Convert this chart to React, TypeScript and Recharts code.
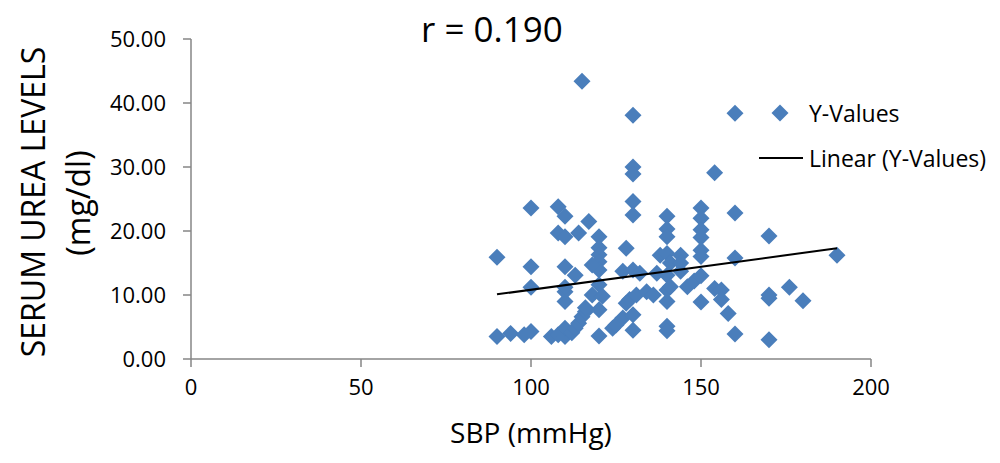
import { Scatter, ScatterChart, XAxis, YAxis } from 'recharts'

// SBP (mmHg) and serum urea (mg/dl)
const sbp = [
  90, 90, 94, 98, 100, 100, 100, 100, 106, 108,
  108, 108, 110, 110, 110, 110, 110, 110, 110, 112,
  113, 113, 114, 114, 115, 115, 116, 117, 118, 120,
  120, 120, 120, 120, 120, 121, 120, 120, 124, 125,
  127, 128, 127, 128, 129, 130, 130, 130, 130, 130,
  130, 130, 130, 131, 132, 134, 136, 137, 138, 140,
  140, 140, 140, 140, 140, 140, 140, 140, 141, 141,
  144, 144, 144, 146, 148, 150, 150, 150, 150, 150,
  150, 150, 150, 154, 154, 156, 156, 158, 160, 160,
  160, 160, 170, 170, 170, 170, 176, 180, 190, 116,
  118, 110,
]
const urea = [
  15.9, 3.5, 4.0, 3.8, 4.3, 14.4, 11.2, 23.6, 3.5, 3.8,
  23.8, 19.7, 22.3, 19.1, 14.4, 10.5, 9.0, 3.5, 4.8, 4.1,
  4.8, 13.1, 19.7, 5.6, 43.4, 6.6, 7.4, 21.5, 10.0, 19.1,
  17.4, 16.3, 15.2, 13.9, 11.6, 9.8, 7.7, 3.6, 4.8, 5.3,
  6.4, 17.3, 13.7, 8.7, 9.3, 38.1, 30.0, 28.9, 24.6, 22.5,
  13.9, 6.9, 4.5, 10.0, 13.4, 10.5, 10.0, 13.4, 16.2, 22.3,
  20.3, 19.1, 16.5, 13.1, 10.8, 9.0, 5.1, 4.4, 15.0, 11.3,
  16.2, 13.7, 15.0, 11.3, 12.2, 23.6, 22.0, 20.2, 19.0, 17.0,
  16.0, 13.0, 8.9, 29.1, 11.0, 10.8, 9.3, 7.1, 38.4, 22.8,
  15.8, 3.9, 19.2, 10.0, 9.5, 3.0, 11.2, 9.1, 16.2, 8.0,
  14.7, 11.2,
]

// ends of the drawn linear trend line
const trendSbp = [90, 190]
const trendUrea = [10.1, 17.3]

const xTicks = [0, 50, 100, 150, 200]
const yTicks = [0, 10, 20, 30, 40, 50]

const points = sbp.map((x, i) => ({ x, y: urea[i] }))
const trend = trendSbp.map((x, i) => ({ x, y: trendUrea[i] }))

const blue = '#4a7ebb'
const axisGrey = '#868686'
const font = '"Open Sans", sans-serif'

function Diamond(props: any) {
  const { cx, cy } = props
  if (cx == null || cy == null) return null
  const r = 8.5
  return (
    <polygon
      points={`${cx},${cy - r} ${cx + r},${cy} ${cx},${cy + r} ${cx - r},${cy}`}
      fill={blue}
    />
  )
}

function LegendBox() {
  return (
    <div
      style={{
        position: 'absolute',
        left: 755,
        top: 98,
        fontFamily: font,
        fontSize: 23,
        color: '#000',
      }}
    >
      <div style={{ display: 'flex', alignItems: 'center', height: 30 }}>
        <svg width={50} height={20}>
          <polygon points="25,1.5 33.5,10 25,18.5 16.5,10" fill={blue} />
        </svg>
        <span style={{ marginLeft: 4 }}>Y-Values</span>
      </div>
      <div style={{ display: 'flex', alignItems: 'center', height: 30, marginTop: 15 }}>
        <svg width={50} height={20}>
          <line x1={4} y1={10} x2={48} y2={10} stroke="#000" strokeWidth={2} />
        </svg>
        <span style={{ marginLeft: 4 }}>Linear (Y-Values)</span>
      </div>
    </div>
  )
}

function YTitle() {
  return (
    <g fontFamily={font} fill="#000">
      <text
        x={32}
        y={202}
        fontSize={32}
        textAnchor="middle"
        dominantBaseline="central"
        transform="rotate(-90 32 202)"
      >
        SERUM UREA LEVELS
      </text>
      <text
        x={77}
        y={203}
        fontSize={32}
        textAnchor="middle"
        dominantBaseline="central"
        transform="rotate(-90 77 203)"
      >
        (mg/dl)
      </text>
    </g>
  )
}

export default function App() {
  return (
    <div style={{ position: 'relative', width: 1000, height: 463, background: '#fff' }}>
      <style>{'body { margin: 0; }'}</style>
      <div
        style={{
          position: 'absolute',
          left: 421,
          top: 6,
          fontFamily: font,
          fontSize: 35,
          color: '#000',
          lineHeight: '46px',
        }}
      >
        r = 0.190
      </div>
      <ScatterChart
        width={1000}
        height={463}
        margin={{ top: 39, right: 129, bottom: 64, left: 91 }}
      >
        <XAxis
          type="number"
          dataKey="x"
          domain={[0, 200]}
          ticks={xTicks}
          height={40}
          stroke={axisGrey}
          strokeWidth={1.5}
          tickSize={8}
          tickMargin={12}
          tick={{ fill: '#000', fontSize: 22, fontFamily: font }}
          label={{
            value: 'SBP (mmHg)',
            position: 'bottom',
            offset: 24,
            fill: '#000',
            fontSize: 28,
            fontFamily: font,
          }}
        />
        <YAxis
          type="number"
          dataKey="y"
          domain={[0, 50]}
          ticks={yTicks}
          width={100}
          stroke={axisGrey}
          strokeWidth={1.5}
          tickSize={8}
          tickMargin={17}
          tickFormatter={(v: number) => v.toFixed(2)}
          tick={{ fill: '#000', fontSize: 22, fontFamily: font }}
          label={{ content: () => <YTitle /> }}
        />
        <Scatter
          data={points}
          shape={<Diamond />}
          isAnimationActive={false}
        />
        <Scatter
          data={trend}
          line={{ stroke: '#000', strokeWidth: 2 }}
          shape={() => null}
          isAnimationActive={false}
        />
      </ScatterChart>
      <LegendBox />
    </div>
  )
}
